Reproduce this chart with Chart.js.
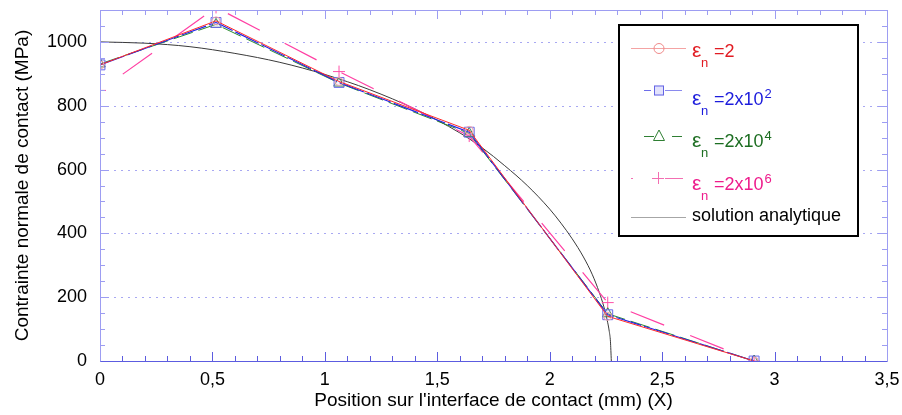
<!DOCTYPE html>
<html>
<head>
<meta charset="utf-8">
<script src="https://cdn.jsdelivr.net/npm/chart.js@4.4.0/dist/chart.umd.min.js"></script>
<style>
    html, body { margin: 0; padding: 0; background: #fff; }
    #wrap { width: 902px; height: 415px; }
</style>
</head>
<body>
<div id="wrap"><canvas id="chart" width="902" height="415"></canvas></div>
<script>
// ========================================
// Données
// ========================================

// positions des noeuds (mm)
const posX = [0, 0.516, 1.063, 1.642, 2.258, 2.909];

// pression normale (MPa) pour chaque pénalité
const eps2   = [928, 1066, 876, 723, 140, 0];
const eps2e2 = [928, 1061, 873, 717, 145, 0];
const eps2e4 = [931, 1055, 871, 713, 148, 0];
const eps2e6 = [848, 1108, 907, 705, 183, 0];

// solution analytique
const analyticX = [0, 0.2, 0.4, 0.6, 0.8, 1.0, 1.2, 1.4, 1.6, 1.7, 1.8, 1.9, 2.0, 2.05, 2.1, 2.15, 2.19, 2.22, 2.24, 2.255, 2.265, 2.27, 2.274];
const analyticY = [1000, 996, 985, 964, 936, 898, 850, 790, 715, 668, 612, 550, 476, 432, 383, 326, 270, 216, 172, 130, 92, 62, 0];

// axes
const xTickLabels = ['0', '0,5', '1', '1,5', '2', '2,5', '3', '3,5'];
const yTickValues = [0, 200, 400, 600, 800, 1000];

// légende
const legendLabels = ['=2', '=2x10', '=2x10', '=2x10', 'solution analytique'];
const legendSups = ['', '2', '4', '6', ''];

const FONT = '"Liberation Sans", Arial, sans-serif';

// ========================================
// Cadre, graduations et grille
// ========================================

const framePlugin = {
    id: 'frame',
    beforeDatasetsDraw(chart) {
        const { ctx, chartArea: a, scales: { y } } = chart;
        ctx.save();
        ctx.strokeStyle = '#a8a8f2';
        ctx.lineWidth = 1;
        ctx.setLineDash([2, 5]);
        yTickValues.slice(1).forEach(v => {
            const py = Math.round(y.getPixelForValue(v)) + 0.5;
            ctx.beginPath();
            ctx.moveTo(a.left, py);
            ctx.lineTo(a.right, py);
            ctx.stroke();
        });
        ctx.restore();
    },
    afterDatasetsDraw(chart) {
        const { ctx, chartArea: a, scales: { x, y } } = chart;
        ctx.save();
        ctx.lineWidth = 1;

        // graduations horizontales (tous les 0,1)
        for (let i = 0; i <= 35; i++) {
            const px = Math.round(x.getPixelForValue(i / 10)) + 0.5;
            const len = i % 5 === 0 ? 9 : 5;
            ctx.strokeStyle = '#5c5ce0';
            ctx.beginPath();
            ctx.moveTo(px, a.bottom);
            ctx.lineTo(px, a.bottom - len);
            ctx.stroke();
            ctx.strokeStyle = '#9d9df2';
            ctx.beginPath();
            ctx.moveTo(px, a.top);
            ctx.lineTo(px, a.top + len);
            ctx.stroke();
        }
        // graduations verticales (tous les 50)
        for (let i = 0; i <= 22; i++) {
            const py = Math.round(y.getPixelForValue(i * 50)) + 0.5;
            const len = i % 4 === 0 ? 9 : 5;
            ctx.strokeStyle = '#9d9df2';
            ctx.beginPath();
            ctx.moveTo(a.left, py);
            ctx.lineTo(a.left + len, py);
            ctx.stroke();
            ctx.beginPath();
            ctx.moveTo(a.right, py);
            ctx.lineTo(a.right - len, py);
            ctx.stroke();
        }

        // bords
        const l = Math.round(a.left) + 0.5, r = Math.round(a.right) + 0.5;
        const t = Math.round(a.top) + 0.5, b = Math.round(a.bottom) + 0.5;
        ctx.strokeStyle = '#9d9df2';
        ctx.beginPath();
        ctx.moveTo(l, b); ctx.lineTo(l, t); ctx.lineTo(r, t); ctx.lineTo(r, b);
        ctx.stroke();
        ctx.strokeStyle = '#5c5ce0';
        ctx.beginPath();
        ctx.moveTo(l, b); ctx.lineTo(r, b);
        ctx.stroke();
        ctx.restore();
    }
};

// ========================================
// Légende (indices et exposants)
// ========================================

const legendPlugin = {
    id: 'customLegend',
    afterDraw(chart) {
        const ctx = chart.ctx;
        const textColors = ['#e11b22', '#1c1cdc', '#1d6e22', '#ee1c8c', '#000000'];
        const sampleY = [47.7, 90, 136, 178.3, 217.3];
        const baseY = [57.3, 104.5, 146.7, 190, 220.7];

        ctx.save();
        // cadre
        ctx.fillStyle = '#fff';
        ctx.fillRect(619, 25, 239, 211);
        ctx.strokeStyle = '#000';
        ctx.lineWidth = 2;
        ctx.strokeRect(619, 25, 239, 211);

        ctx.lineWidth = 1;
        const seg = (x1, x2, yy, c) => {
            ctx.strokeStyle = c;
            ctx.beginPath();
            ctx.moveTo(x1, yy + 0.5);
            ctx.lineTo(x2, yy + 0.5);
            ctx.stroke();
        };

        // échantillons
        let yy = Math.round(sampleY[0]);
        seg(631, 686, yy, '#f4a3a3');
        ctx.strokeStyle = '#f08a8a';
        ctx.beginPath(); ctx.arc(659, yy + 0.5, 5, 0, Math.PI * 2); ctx.stroke();

        yy = Math.round(sampleY[1]);
        seg(644, 651, yy, '#6d6dea');
        seg(665, 682, yy, '#8a8aee');
        ctx.fillStyle = '#e2e2fc';
        ctx.fillRect(654, yy - 4.5, 10, 10);
        ctx.strokeStyle = '#6464e4';
        ctx.strokeRect(654.5, yy - 4, 9, 9);

        yy = Math.round(sampleY[2]);
        seg(644, 654, yy, '#2f7f33');
        seg(672, 682, yy, '#2f7f33');
        ctx.strokeStyle = '#2f7f33';
        ctx.beginPath();
        ctx.moveTo(659, yy - 6); ctx.lineTo(664.5, yy + 4.5); ctx.lineTo(653.5, yy + 4.5); ctx.closePath();
        ctx.stroke();

        yy = Math.round(sampleY[3]);
        seg(631, 633, yy, '#f36fb2');
        seg(665, 683, yy, '#f36fb2');
        ctx.strokeStyle = '#f36fb2';
        ctx.beginPath();
        ctx.moveTo(652, yy + 0.5); ctx.lineTo(664, yy + 0.5);
        ctx.moveTo(658.5, yy - 6); ctx.lineTo(658.5, yy + 6);
        ctx.stroke();

        yy = Math.round(sampleY[4]);
        seg(631, 686, yy, '#a6a6a6');

        // textes
        ctx.textBaseline = 'alphabetic';
        ctx.textAlign = 'left';
        legendLabels.forEach((lab, i) => {
            ctx.fillStyle = textColors[i];
            const by = baseY[i];
            if (i === 4) {
                ctx.font = '18px ' + FONT;
                ctx.fillText(lab, 692, by);
                return;
            }
            ctx.font = '21px ' + FONT;
            ctx.fillText('\u03b5', 692, by);
            ctx.font = '13px ' + FONT;
            ctx.fillText('n', 701, by + 10);
            ctx.font = '18px ' + FONT;
            ctx.fillText(lab, 714, by);
            if (legendSups[i]) {
                const w = ctx.measureText(lab).width;
                ctx.font = '13px ' + FONT;
                ctx.fillText(legendSups[i], 714 + w + 1, by - 7);
            }
        });
        ctx.restore();
    }
};

// ========================================
// Graphique
// ========================================

const toPoints = (xs, ys) => xs.map((v, i) => ({ x: v, y: ys[i] }));

// pas de marge automatique autour des axes
const noPad = function(scale) {
    scale.paddingTop = 0;
    scale.paddingBottom = 0;
    scale.paddingLeft = 0;
    scale.paddingRight = 0;
};

const ctx = document.getElementById('chart').getContext('2d');
new Chart(ctx, {
    type: 'line',
    data: {
        datasets: [
            {
                label: 'εn=2',
                data: toPoints(posX, eps2),
                borderColor: '#ff2a2a',
                borderWidth: 1,
                pointStyle: 'circle',
                pointRadius: 4,
                pointBorderColor: '#f5a5a5',
                pointBackgroundColor: 'rgba(0,0,0,0)',
                pointBorderWidth: 1
            },
            {
                label: 'εn=2x10^2',
                data: toPoints(posX, eps2e2),
                borderColor: '#2424e6',
                borderWidth: 1.2,
                borderDash: [26, 3],
                pointStyle: 'rect',
                pointRadius: 7,
                pointBorderColor: '#6a6aea',
                pointBackgroundColor: 'rgba(190,190,250,0.18)',
                pointBorderWidth: 1
            },
            {
                label: 'εn=2x10^4',
                data: toPoints(posX, eps2e4),
                borderColor: '#2a8a2e',
                borderWidth: 1,
                borderDash: [20, 6],
                pointStyle: 'triangle',
                pointRadius: 6,
                pointBorderColor: '#2a7a2e',
                pointBackgroundColor: 'rgba(0,0,0,0)',
                pointBorderWidth: 1
            },
            {
                label: 'εn=2x10^6',
                data: toPoints(posX, eps2e6),
                borderColor: '#ff3fa3',
                borderWidth: 1.2,
                borderDash: [36, 28],
                borderDashOffset: 36,
                pointStyle: 'cross',
                pointRadius: 6,
                pointBorderColor: '#ff4fa8',
                pointBorderWidth: 1
            },
            {
                label: 'solution analytique',
                data: toPoints(analyticX, analyticY),
                borderColor: '#3a3a3a',
                borderWidth: 1,
                pointRadius: 0,
                cubicInterpolationMode: 'monotone'
            }
        ]
    },
    options: {
        responsive: false,
        animation: false,
        layout: { padding: { top: 10, right: 15, left: 0, bottom: 0 } },
        plugins: {
            legend: { display: false },
            tooltip: { enabled: false }
        },
        scales: {
            x: {
                type: 'linear',
                min: 0,
                max: 3.5,
                border: { display: false },
                grid: { display: false, drawTicks: false },
                ticks: {
                    stepSize: 0.5,
                    padding: 8,
                    color: '#000',
                    font: { family: FONT, size: 18 },
                    callback: function(value) {
                        const idx = Math.round(value * 2);
                        return Math.abs(value * 2 - idx) < 1e-6 ? xTickLabels[idx] : '';
                    }
                },
                title: {
                    display: true,
                    text: "Position sur l'interface de contact (mm) (X)",
                    color: '#000',
                    font: { family: FONT, size: 19 },
                    padding: { top: 0, bottom: 3 }
                },
                afterFit: function(scale) { noPad(scale); scale.height = 54; }
            },
            y: {
                min: 0,
                max: 1100,
                border: { display: false },
                grid: { display: false, drawTicks: false },
                ticks: {
                    stepSize: 200,
                    padding: 13,
                    color: '#000',
                    font: { family: FONT, size: 18 },
                    callback: function(value) {
                        return yTickValues.includes(value) ? value : '';
                    }
                },
                title: {
                    display: true,
                    text: 'Contrainte normale de contact (MPa)',
                    color: '#000',
                    font: { family: FONT, size: 19 },
                    padding: { top: 11, bottom: 0 }
                },
                afterFit: function(scale) { noPad(scale); scale.width = 100; }
            }
        }
    },
    plugins: [framePlugin, legendPlugin]
});
</script>
</body>
</html>
